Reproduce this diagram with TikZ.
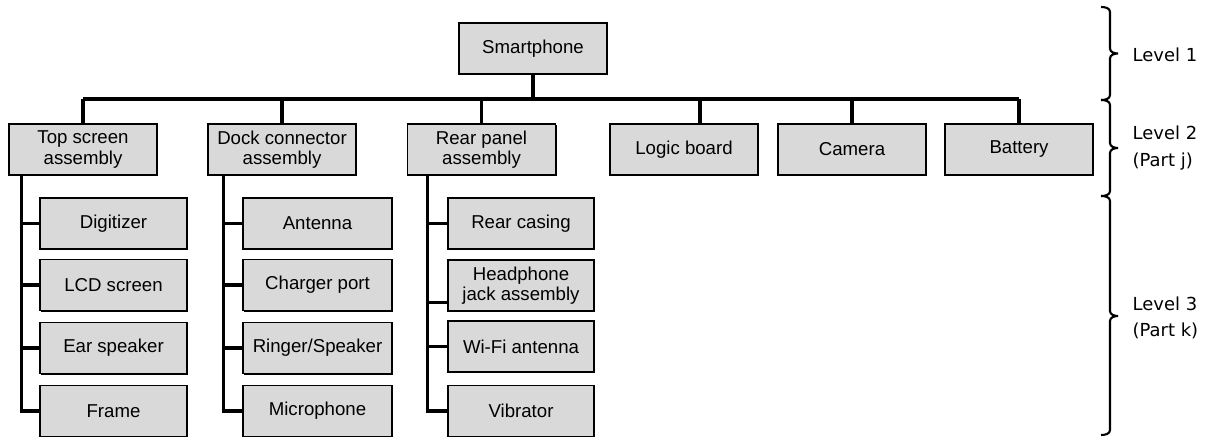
\documentclass[tikz,border=0pt]{standalone}
\usepackage{fontspec}
\setmainfont{Liberation Sans}
\newfontfamily\levelfont{DejaVu Sans}
\usepackage{tikz}
\usetikzlibrary{positioning,shadows}
\tikzset{
    % grey boxes of the parts tree
    partbox/.style={
        draw=black,
        line width=0.45pt,
        fill=black!15,
        minimum width=1.48cm,
        minimum height=0.51cm,
        inner sep=0pt,
        align=center,
        font=\fontsize{5.3}{5.8}\selectfont,
        drop shadow={shadow xshift=0.35pt, shadow yshift=-0.35pt, fill=black, opacity=1}
    },
    treeline/.style={
        line width=0.9pt,
        black
    },
    bracestyle/.style={
        line width=0.6pt,
        black
    },
    leveltext/.style={
        anchor=west,
        align=left,
        inner sep=0pt,
        font=\levelfont\fontsize{5.1}{7.6}\selectfont
    }
}
% brace on the right: top, tip, bottom
\newcommand{\lvlbrace}[3]{
	\draw[bracestyle] (1101,#1) to[out=0,in=90] (1110,#1+5) -- (1110,#2-5)
		to[out=-90,in=180] (1118,#2) to[out=180,in=90] (1110,#2+5) -- (1110,#3-5)
		to[out=-90,in=0] (1101,#3);
}

\begin{document}
\begin{tikzpicture}[x=0.01cm,y=-0.01cm]
	\useasboundingbox (0,0) rectangle (1207,437);
	
	% level 1
	\node[partbox] (phone) at (533,48.5) {Smartphone};
	
	% level 2
	\node[partbox] (top) at (83,149.5) {Top screen\\assembly};
	\node[partbox] (dock) at (282,149.5) {Dock connector\\assembly};
	\node[partbox] (rear) at (481.5,149.5) {Rear panel\\assembly};
	\node[partbox] (logic) at (684,149.5) {Logic board};
	\node[partbox] (cam) at (852,149.5) {Camera};
	\node[partbox] (bat) at (1019,149.5) {Battery};
	
	% level 3
	\node[partbox,minimum width=1.47cm] (digit) at (113.5,223.5) {Digitizer};
	\node[partbox,minimum width=1.47cm] (lcd) at (113.5,285) {LCD screen};
	\node[partbox,minimum width=1.47cm] (ear) at (113.5,348) {Ear speaker};
	\node[partbox,minimum width=1.47cm] (frame) at (113.5,411) {Frame};
	
	\node[partbox,minimum width=1.49cm] (ant) at (317.5,223.5) {Antenna};
	\node[partbox,minimum width=1.49cm] (charge) at (317.5,285) {Charger port};
	\node[partbox,minimum width=1.49cm] (ring) at (317.5,348) {Ringer/Speaker};
	\node[partbox,minimum width=1.49cm] (micro) at (317.5,411) {Microphone};
	
	\node[partbox,minimum width=1.46cm] (casing) at (521,223.5) {Rear casing};
	\node[partbox,minimum width=1.46cm] (head) at (521,285.5) {Headphone\\jack assembly};
	\node[partbox,minimum width=1.46cm] (wifi) at (521,346.5) {Wi-Fi antenna};
	\node[partbox,minimum width=1.46cm] (vib) at (521,411) {Vibrator};
	
	% bus between level 1 and level 2
	\coordinate (bus) at (533,99);
	\draw[treeline] (phone.south) -- (bus);
	\draw[treeline] (top.north |- bus) -- (bat.north |- bus);
	\foreach \n in {top,dock,rear,cam,bat}
		\draw[treeline] (\n.north) -- (\n.north |- bus);
	\draw[treeline] ([xshift=0.16cm]logic.north) -- ([xshift=0.16cm]logic.north |- bus);
	
	% trunks down to level 3
	\coordinate (toptrunk) at ([xshift=0.13cm]top.south west);
	\coordinate (docktrunk) at ([xshift=0.16cm]dock.south west);
	\coordinate (reartrunk) at ([xshift=0.21cm]rear.south west);
	
	\draw[treeline] (toptrunk) |- (frame.west);
	\foreach \n in {digit,lcd,ear}
		\draw[treeline] (\n.west) -- (\n.west -| toptrunk);
	
	\draw[treeline] (docktrunk) |- (micro.west);
	\foreach \n in {ant,charge,ring}
		\draw[treeline] (\n.west) -- (\n.west -| docktrunk);
	
	\draw[treeline] (reartrunk) |- (vib.west);
	\foreach \n in {casing,wifi}
		\draw[treeline] (\n.west) -- (\n.west -| reartrunk);
	\draw[treeline] ([yshift=0.09cm]head.south west) -- ([yshift=0.09cm]head.south west -| reartrunk);
	
	% braces for the levels
	\lvlbrace{7}{53.5}{100}
	\lvlbrace{100}{148}{196}
	\lvlbrace{196}{316}{435}
	
	\node[leveltext] (lv1) at (1132,55) {Level 1};
	\node[leveltext] (lv2) at (1132,148) {Level 2\\(Part j)};
	\node[leveltext] (lv3) at (1132,318) {Level 3\\(Part k)};
\end{tikzpicture}
\end{document}
